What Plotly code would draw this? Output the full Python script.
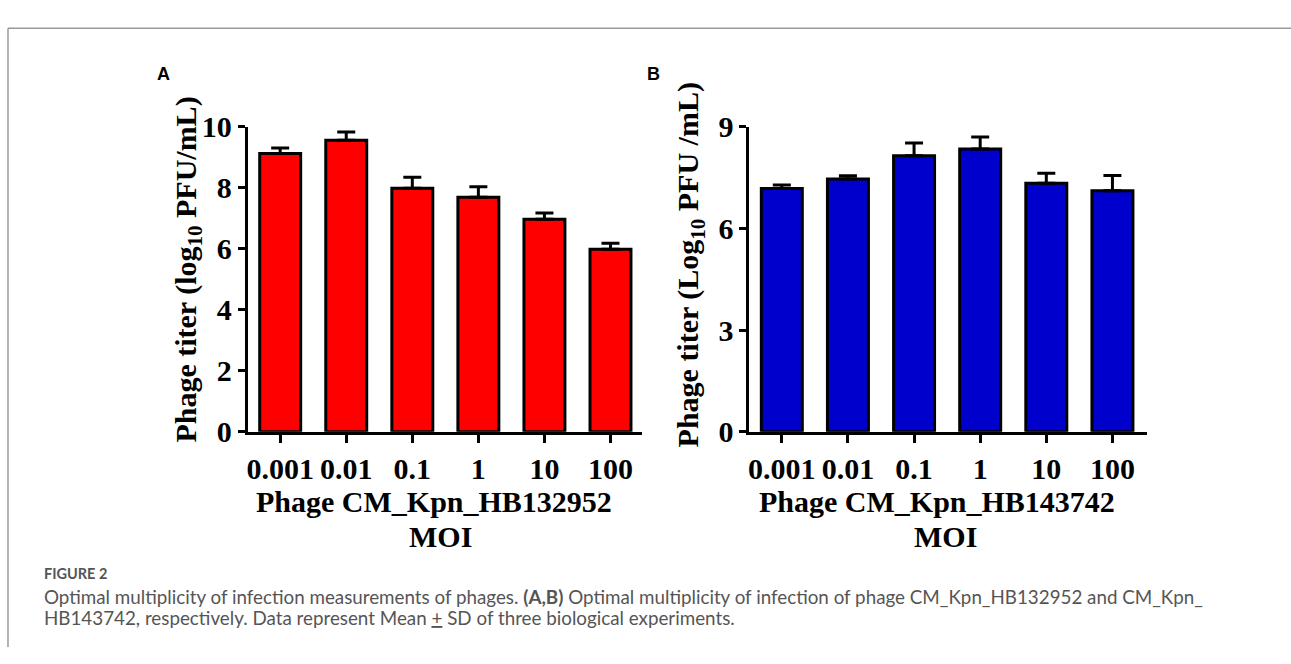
import plotly.graph_objects as go

moi = ["0.001", "0.01", "0.1", "1", "10", "100"]
titer_a = [9.12, 9.56, 7.98, 7.69, 6.97, 5.98]
sd_a = [0.18, 0.27, 0.36, 0.34, 0.20, 0.20]
titer_b = [7.18, 7.46, 8.14, 8.34, 7.33, 7.11]
sd_b = [0.10, 0.09, 0.38, 0.36, 0.30, 0.45]
yticks_a = [0, 2, 4, 6, 8, 10]
yticks_b = [0, 3, 6, 9]

W, H = 1291, 664
SERIF = "Liberation Serif, Times New Roman, serif"

def px(x):
    return x / W

def py(y):
    return 1 - y / H

fig = go.Figure()
fig.add_trace(go.Bar(
    x=moi, y=titer_a, xaxis="x", yaxis="y", width=0.62,
    marker=dict(color="#FF0000", line=dict(color="black", width=3)),
    error_y=dict(type="data", symmetric=False, array=sd_a, arrayminus=[0] * 6,
                 color="black", thickness=3, width=9),
    showlegend=False))
fig.add_trace(go.Bar(
    x=moi, y=titer_b, xaxis="x2", yaxis="y2", width=0.62,
    marker=dict(color="#0000CC", line=dict(color="black", width=3)),
    error_y=dict(type="data", symmetric=False, array=sd_b, arrayminus=[0] * 6,
                 color="black", thickness=3, width=9),
    showlegend=False))

tickfont = dict(family=SERIF, size=30, color="black", weight="bold")
xcommon = dict(type="category", showline=True, linewidth=3, linecolor="black",
               ticks="outside", ticklen=8, tickwidth=3, tickcolor="black", tickangle=0,
               tickfont=tickfont, showgrid=False, zeroline=False, fixedrange=True)
ycommon = dict(showline=True, linewidth=3, linecolor="black",
               ticks="outside", ticklen=7, tickwidth=3, tickcolor="black",
               tickfont=tickfont, showgrid=False, zeroline=False, fixedrange=True)

yd = [py(437.5), py(116.5)]
fig.update_layout(
    width=W, height=H, autosize=False,
    margin=dict(l=0, r=0, t=0, b=0),
    paper_bgcolor="white", plot_bgcolor="white",
    bargap=0.38,
    xaxis=dict(domain=[px(247), px(641.7)], range=[-0.49, 5.48], anchor="y", **xcommon),
    yaxis=dict(domain=yd, range=[0, 10], tickvals=yticks_a, anchor="x", **ycommon),
    xaxis2=dict(domain=[px(749), px(1146.7)], range=[-0.49, 5.52], anchor="y2", **xcommon),
    yaxis2=dict(domain=yd, range=[0, 9], tickvals=yticks_b, anchor="x2", **ycommon),
)

titlefont = dict(family=SERIF, size=30, color="black", weight="bold")
labfont = dict(family="Liberation Sans, Arial", size=18, color="black", weight="bold")
ann = [
    dict(text="A", x=px(163), y=py(61), font=labfont),
    dict(text="B", x=px(653), y=py(61), font=labfont),
    dict(text="Phage titer (log<sub>10</sub> PFU/mL)", x=px(187), y=py(267), textangle=-90, font=titlefont),
    dict(text="Phage titer (Log<sub>10</sub> PFU /mL)", x=px(690), y=py(262), textangle=-90, font=titlefont),
    dict(text="Phage CM_Kpn_HB132952", x=px(433), y=py(511), font=titlefont),
    dict(text="MOI", x=px(440), y=py(548), font=titlefont),
    dict(text="Phage CM_Kpn_HB143742", x=px(937), y=py(511), font=titlefont),
    dict(text="MOI", x=px(945), y=py(548), font=titlefont),
]
for a in ann:
    fig.add_annotation(xref="paper", yref="paper", showarrow=False,
                       xanchor="center", yanchor="middle", borderpad=0, **a)

capfont = dict(family="Lato, Open Sans, sans-serif", size=18.8, color="#555555")
fig.add_annotation(xref="paper", yref="paper", showarrow=False, xanchor="left", yanchor="middle",
                   x=px(41), y=py(587), text="FIGURE 2",
                   font=dict(family="Lato, Open Sans, sans-serif", size=14.5, color="#555555", weight="bold"))
fig.add_annotation(xref="paper", yref="paper", showarrow=False, xanchor="left", yanchor="middle",
                   x=px(41), y=py(611),
                   text="Optimal multiplicity of infection measurements of phages. <b>(A,B)</b> Optimal multiplicity of infection of phage CM_Kpn_HB132952 and CM_Kpn_",
                   font=capfont)
fig.add_annotation(xref="paper", yref="paper", showarrow=False, xanchor="left", yanchor="middle",
                   x=px(41), y=py(633),
                   text="HB143742, respectively. Data represent Mean <u>+</u> SD of three biological experiments.",
                   font=capfont)

fig.add_shape(type="line", xref="paper", yref="paper", x0=px(7), x1=1, y0=py(13), y1=py(13),
              line=dict(color="#9a9a9a", width=1.5))
fig.add_shape(type="line", xref="paper", yref="paper", x0=px(7), x1=px(7), y0=py(13), y1=0,
              line=dict(color="#9a9a9a", width=1.5))

fig.write_html("out.html", config={"displayModeBar": False},
               post_script="document.body.style.margin='0';document.body.style.overflow='hidden';")
